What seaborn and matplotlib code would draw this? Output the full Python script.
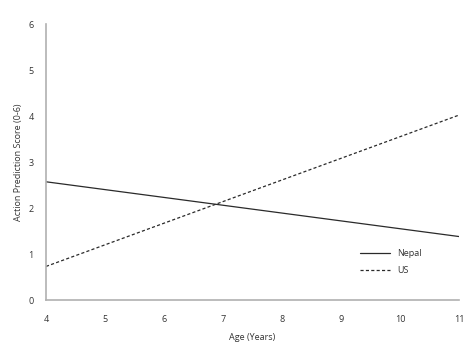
import matplotlib

matplotlib.use("Agg")
import matplotlib.pyplot as plt
import pandas as pd
import seaborn as sns

AGES = [4, 11]
NEPAL = [2.57, 1.38]
US = [0.73, 4.02]

sns.set_theme(style="white")
plt.rcParams["font.family"] = ["Open Sans", "DejaVu Sans"]

df = pd.DataFrame(
    {
        "age": AGES * 2,
        "score": NEPAL + US,
        "group": ["Nepal"] * len(AGES) + ["US"] * len(AGES),
    }
)

fig = plt.figure(figsize=(4.73, 3.54), dpi=100)
ax = fig.add_axes([0.0973, 0.1525, 0.8731, 0.7797])

sns.lineplot(
    data=df,
    x="age",
    y="score",
    style="group",
    dashes={"Nepal": "", "US": (2.5, 1.8)},
    color="#2a2a2a",
    linewidth=0.9,
    ax=ax,
)

ax.set_xlim(4, 11)
ax.set_ylim(0, 6)
ax.set_xticks(range(4, 12))
ax.set_yticks(range(0, 7))
for side in ("top", "right"):
    ax.spines[side].set_visible(False)
for side in ("left", "bottom"):
    ax.spines[side].set_color("#b0b0b0")
    ax.spines[side].set_linewidth(1.2)
ax.tick_params(axis="both", length=3, width=0.8, color="#b0b0b0", labelsize=6.5, labelcolor="#333333")
ax.tick_params(axis="x", pad=8)
ax.tick_params(axis="y", pad=6)
ax.set_xlabel("Age (Years)", fontsize=6.5, color="#333333", labelpad=6)
ax.set_ylabel("Action Prediction Score (0-6)", fontsize=6.5, color="#333333", labelpad=4)

leg = ax.legend(
    loc="lower right",
    bbox_to_anchor=(0.93, 0.06),
    frameon=False,
    fontsize=6.5,
    handlelength=3.3,
    labelspacing=0.9,
    title=None,
)
for t in leg.get_texts():
    t.set_color("#333333")

fig.savefig("out.png", dpi=100)
